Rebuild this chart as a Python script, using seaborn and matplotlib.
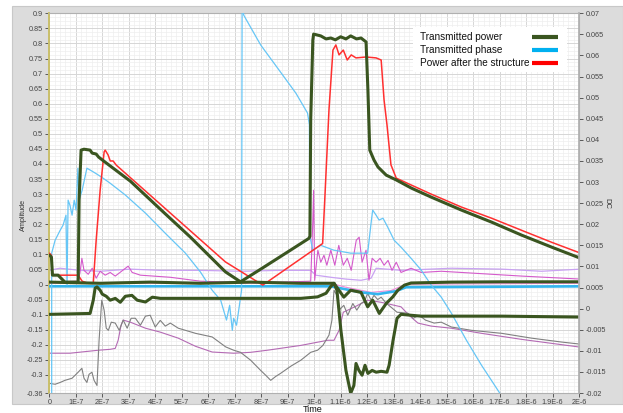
import numpy as np
import pandas as pd
import seaborn as sns
import matplotlib
matplotlib.use("Agg")
import matplotlib.pyplot as plt
from matplotlib.lines import Line2D
from matplotlib.patches import Rectangle
from matplotlib.ticker import MultipleLocator

sns.set_theme(style="white")
plt.rcParams['font.family'] = ['Liberation Sans', 'DejaVu Sans']

# ---------------- data (time in units of 1E-7 s) ----------------
power_t = [0.01, 0.08, 0.12, 0.33, 0.59, 1.09, 1.125, 1.2, 1.31, 1.54, 1.62, 1.77, 1.86, 2.11,
           3.06, 4.19, 5.33, 6.65, 7.22, 8.0, 9.0, 9.80, 9.84, 9.87, 9.95, 9.98, 10.25, 10.45,
           10.63, 10.8, 11.0, 11.2, 11.38, 11.6, 11.77, 11.96, 12.03, 12.1, 12.26, 12.41, 12.72,
           13.1, 13.67, 14.42, 15.56, 16.7, 17.83, 18.97, 20.06]
power_v = [0.097, 0.091, 0.031, 0.031, 0.008, 0.008, 0.28, 0.446, 0.449, 0.446, 0.436, 0.433, 0.423, 0.406,
           0.343, 0.25, 0.157, 0.042, 0.009, 0.052, 0.108, 0.153, 0.16, 0.546, 0.811, 0.831, 0.825, 0.815,
           0.818, 0.812, 0.822, 0.815, 0.825, 0.815, 0.818, 0.805, 0.645, 0.446, 0.413, 0.39, 0.363,
           0.347, 0.32, 0.29, 0.247, 0.207, 0.164, 0.124, 0.087]

after_t = [0.01, 0.08, 0.12, 1.09, 1.24, 1.47, 1.66, 1.77, 1.92, 2.07, 2.11, 2.22, 2.3, 2.41, 2.53,
           6.65, 8.06, 10.32, 10.4, 10.56, 10.71, 10.82, 10.94, 11.1, 11.25, 11.4, 11.58, 11.96,
           12.34, 12.53, 12.64, 12.75, 12.9, 13.1, 13.67, 14.42, 15.56, 16.7, 17.83, 18.97, 20.06]
after_v = [0.104, 0.097, 0.031, 0.031, 0.011, 0.004, 0.004, 0.147, 0.313, 0.44, 0.446, 0.43, 0.41, 0.41, 0.396,
           0.075, -0.002, 0.136, 0.28, 0.58, 0.778, 0.795, 0.762, 0.778, 0.745, 0.762, 0.752, 0.755,
           0.752, 0.745, 0.612, 0.53, 0.397, 0.353, 0.33, 0.30, 0.257, 0.22, 0.18, 0.14, 0.104]

phase_t = [0.09, 0.09, 0.22, 0.41, 0.52, 0.63, 0.67, 0.71, 0.78, 0.86, 0.94, 1.01, 1.08, 1.125, 1.24,
           1.42, 1.54, 1.73, 1.98, 2.3, 2.87, 3.63, 4.38, 5.14, 5.71, 6.15, 6.47, 6.69, 6.81, 6.91,
           6.96, 7.07, 7.26, 7.28, 7.34, 7.98, 8.73, 9.31, 9.75, 9.82, 9.84, 9.95, 10.25, 10.74,
           11.38, 12.02, 12.14, 12.21, 12.34, 12.45, 12.6, 12.78, 13.02, 13.28, 13.66, 14.04,
           14.42, 14.8, 15.18, 15.75, 16.32, 17.08]
phase_v = [-0.40, 0.104, 0.147, 0.18, 0.197, 0.23, -0.002, 0.28, 0.263, 0.23, 0.28, 0.247, 0.386, 0.28, 0.313,
           0.386, 0.38, 0.37, 0.356, 0.336, 0.297, 0.237, 0.17, 0.104, 0.041, -0.019, -0.052, -0.118, -0.069, -0.152,
           -0.112, -0.135, -0.019, 0.95, 0.894, 0.795, 0.705, 0.635, 0.569, 0.53, 0.16, 0.114, 0.13, 0.114,
           0.104, 0.104, 0.197, 0.247, 0.23, 0.214, 0.22, 0.19, 0.147, 0.124, 0.087, 0.048,
           -0.002, -0.042, -0.095, -0.185, -0.268, -0.37]

phase_dc_t = [0.0, 10.63, 11.2, 11.77, 12.4, 13.09, 13.47, 20.06]
phase_dc_v = [-0.006, -0.006, -0.016, -0.026, -0.032, -0.022, -0.009, -0.006]

violet_t = [0.0, 0.4, 1.16, 1.92, 3.06, 4.19, 5.71, 7.22, 8.73, 9.87, 10.06, 10.63, 11.2, 11.77,
            12.15, 12.34, 13.28, 15.18, 17.08, 18.59, 20.06]
violet_v = [0.047, 0.054, 0.047, 0.044, 0.051, 0.047, 0.047, 0.044, 0.047, 0.047, 0.031, 0.024, 0.018, 0.014,
            0.021, 0.054, 0.047, 0.054, 0.051, 0.044, 0.051]

magenta_t = [0.0, 1.09, 1.16, 1.23, 1.31, 1.47, 1.62, 1.77, 1.92, 2.11, 2.3, 2.49, 2.98, 3.13, 3.44,
             4.57, 5.71, 6.84, 8.73, 9.87, 9.95, 9.98, 10.02, 10.14, 10.25, 10.37, 10.48, 10.63, 10.78,
             10.93, 11.1, 11.25, 11.4, 11.59, 11.7, 11.81, 11.96, 12.07, 12.19, 12.34, 12.49, 12.64,
             12.79, 12.94, 13.1, 13.28, 13.66, 14.04, 14.8, 15.94, 17.83, 20.06]
magenta_v = [0.008, 0.011, 0.04, 0.087, 0.047, 0.034, 0.054, 0.021, 0.044, 0.031, 0.04, 0.028, 0.061, 0.04, 0.031,
             0.024, 0.011, 0.008, 0.008, 0.011, 0.213, 0.313, 0.014, 0.114, 0.074, 0.097, 0.064, 0.114, 0.064,
             0.13, 0.064, 0.087, 0.047, 0.147, 0.157, 0.074, 0.114, 0.014, 0.087, 0.074, 0.087, 0.064,
             0.08, 0.047, 0.074, 0.04, 0.054, 0.04, 0.044, 0.038, 0.028, 0.018]

pink_t = [0.0, 10.63, 11.2, 12.15, 12.9, 13.47, 20.06]
pink_v = [0.004, 0.004, -0.009, -0.026, -0.02, 0.001, 0.004]

base_t = [0.0, 1.92, 3.81, 5.71, 7.6, 9.5, 10.75, 11.12, 11.38, 11.77, 12.02, 12.21, 12.46, 12.72,
          12.97, 13.16, 13.41, 13.66, 15.18, 17.07, 20.06]
base_v = [0.008, 0.004, 0.008, 0.004, 0.008, 0.004, 0.004, -0.042, -0.019, -0.026, -0.074, -0.052, -0.096, -0.063,
          -0.041, -0.019, -0.002, 0.005, 0.008, 0.009, 0.009]

low_t = [0.0, 1.54, 1.66, 1.73, 1.8, 1.92, 2.0, 2.15, 2.3, 2.49, 2.68, 2.87, 3.12, 3.32, 3.63, 3.89,
         4.19, 4.87, 5.71, 7.6, 9.5, 10.13, 10.45, 10.63, 10.75, 10.86, 11.01, 11.2, 11.38, 11.5,
         11.58, 11.69, 11.81, 11.92, 12.03, 12.19, 12.34, 12.53, 12.75, 12.83, 12.98, 13.13, 13.28,
         14.04, 15.18, 17.08, 20.06]
low_v = [-0.099, -0.096, -0.052, -0.012, -0.008, -0.019, -0.032, -0.039, -0.052, -0.046, -0.059, -0.039, -0.036,
         -0.052, -0.058, -0.042, -0.046, -0.046, -0.046, -0.046, -0.046, -0.041, -0.029, -0.006, 0.004, -0.019,
         -0.152, -0.285, -0.361, -0.335, -0.262, -0.285, -0.301, -0.268, -0.295, -0.285, -0.291, -0.288, -0.291,
         -0.268, -0.185, -0.112, -0.099, -0.105, -0.105, -0.105, -0.108]

gray_t = [0.0, 0.22, 0.41, 0.59, 0.86, 1.09, 1.23, 1.31, 1.42, 1.5, 1.61, 1.69, 1.8, 1.88, 1.98, 2.07,
          2.15, 2.23, 2.34, 2.49, 2.64, 2.79, 2.94, 3.09, 3.25, 3.44, 3.63, 3.81, 4.0, 4.19, 4.38,
          4.57, 4.87, 5.14, 5.52, 6.15, 6.66, 6.96, 7.22, 7.6, 7.98, 8.17, 8.36, 8.55, 8.73, 9.12,
          9.5, 9.87, 10.13, 10.33, 10.56, 10.67, 10.75, 10.86, 10.94, 11.12, 11.27, 11.46, 11.61,
          11.77, 11.9, 12.02, 12.15, 12.26, 12.4, 12.53, 12.72, 12.9, 13.13, 13.54, 13.74, 13.97,
          14.2, 14.53, 14.8, 15.18, 15.94, 17.08, 18.21, 19.35, 20.06]
gray_v = [-0.328, -0.331, -0.325, -0.318, -0.311, -0.291, -0.278, -0.311, -0.325, -0.298, -0.291, -0.318, -0.335,
          -0.185, -0.052, -0.085, -0.145, -0.152, -0.125, -0.128, -0.152, -0.118, -0.145, -0.112, -0.112, -0.135,
          -0.105, -0.102, -0.141, -0.119, -0.138, -0.128, -0.145, -0.152, -0.162, -0.174, -0.207, -0.218, -0.225,
          -0.251, -0.285, -0.301, -0.318, -0.305, -0.295, -0.271, -0.251, -0.225, -0.218, -0.202, -0.168, -0.119,
          -0.019, -0.036, -0.085, -0.069, -0.102, -0.063, -0.085, -0.063, -0.056, -0.029, -0.052, -0.036, -0.05,
          -0.042, -0.062, -0.075, -0.092, -0.095, -0.112, -0.102, -0.118, -0.128, -0.125, -0.141, -0.152, -0.162,
          -0.178, -0.191, -0.198]

purple_t = [0.0, 0.78, 1.86, 2.3, 2.49, 2.6, 2.71, 2.79, 3.06, 3.63, 4.19, 4.87, 5.52, 6.15, 6.96, 7.6,
            8.24, 9.5, 10.51, 10.75, 10.94, 11.1, 11.27, 11.58, 12.02, 12.53, 13.28, 13.58, 13.92,
            14.42, 15.18, 16.32, 17.83, 20.06]
purple_v = [-0.228, -0.228, -0.218, -0.215, -0.212, -0.185, -0.135, -0.118, -0.125, -0.145, -0.158, -0.178,
            -0.205, -0.224, -0.228, -0.225, -0.218, -0.202, -0.185, -0.185, -0.152, -0.092, -0.085, -0.072,
            -0.052, -0.059, -0.074, -0.102, -0.128, -0.138, -0.145, -0.162, -0.182, -0.208]

x_ticks = list(range(0, 21))
x_labels = ["0", "1E-7", "2E-7", "3E-7", "4E-7", "5E-7", "6E-7", "7E-7", "8E-7", "9E-7", "1E-6",
            "1.1E-6", "1.2E-6", "1.3E-6", "1.4E-6", "1.5E-6", "1.6E-6", "1.7E-6", "1.8E-6", "1.9E-6", "2E-6"]
left_ticks = [0.9, 0.85, 0.8, 0.75, 0.7, 0.65, 0.6, 0.55, 0.5, 0.45, 0.4, 0.35, 0.3, 0.25, 0.2, 0.15,
              0.1, 0.05, 0.0, -0.05, -0.1, -0.15, -0.2, -0.25, -0.3, -0.36]
left_labels = ["0.9", "0.85", "0.8", "0.75", "0.7", "0.65", "0.6", "0.55", "0.5", "0.45", "0.4", "0.35",
               "0.3", "0.25", "0.2", "0.15", "0.1", "0.05", "0", "-0.05", "-0.1", "-0.15", "-0.2",
               "-0.25", "-0.3", "-0.36"]
right_ticks = [0.07, 0.065, 0.06, 0.055, 0.05, 0.045, 0.04, 0.035, 0.03, 0.025, 0.02, 0.015, 0.01,
               0.005, 0.0, -0.005, -0.01, -0.015, -0.02]
right_labels = ["0.07", "0.065", "0.06", "0.055", "0.05", "0.045", "0.04", "0.035", "0.03", "0.025",
                "0.02", "0.015", "0.01", "0.005", "0", "-0.005", "-0.01", "-0.015", "-0.02"]
legend_labels = ["Transmitted power", "Transmitted phase", "Power after the structure"]
legend_colors = ["#3a5520", "#00b0f0", "#ff0000"]

# ---------------- figure ----------------
W, H = 623, 413
fig = plt.figure(figsize=(W / 100, H / 100), dpi=100)
fig.patch.set_facecolor("white")
fig.patches.append(Rectangle((12 / W, 1 - 404 / H), (W - 12) / W, (404 - 6) / H,
                             transform=fig.transFigure, facecolor="#dcdcdc",
                             edgecolor="#c8c8c8", linewidth=0.8, zorder=-10))

ax = fig.add_axes([49.3 / W, 1 - 393 / H, (579 - 49.3) / W, (393 - 13.3) / H])
ax.set_zorder(1)
ax.set_facecolor("white")
ax.set_xlim(0, 20)
ax.set_ylim(-0.36, 0.9)

# grid
ax.xaxis.set_minor_locator(MultipleLocator(0.2))
ax.yaxis.set_minor_locator(MultipleLocator(0.0125))
ax.grid(which="major", color="#d6d6d6", linewidth=0.7)
ax.grid(which="minor", color="#eeeeee", linewidth=0.5)
ax.set_axisbelow(True)


def draw(t, v, color, lw, z):
    df = pd.DataFrame({"t": t, "v": v})
    sns.lineplot(data=df, x="t", y="v", ax=ax, color=color, linewidth=lw, sort=False,
                 estimator=None, legend=False, zorder=z)


draw(purple_t, purple_v, "#b46ab4", 0.8, 2)
draw(gray_t, gray_v, "#808080", 0.8, 2)
draw(violet_t, violet_v, "#c9a2f2", 0.9, 2)
draw(magenta_t, magenta_v, "#d45acb", 0.8, 3)
draw(pink_t, pink_v, "#f08ad8", 0.8, 3)
draw(phase_dc_t, phase_dc_v, "#33b5ee", 1.9, 3)
draw(phase_t, phase_v, "#66c6f6", 0.9, 4)
draw(after_t, after_v, "#ff3030", 1.1, 5)
draw(low_t, low_v, "#3a5520", 2.2, 6)
draw(base_t, base_v, "#3a5520", 2.2, 6)
draw(power_t, power_v, "#3a5520", 2.2, 7)

ax.set_xticks(x_ticks)
ax.set_xticklabels(x_labels)
ax.set_yticks(left_ticks)
ax.set_yticklabels(left_labels)
ax.tick_params(axis="both", which="major", labelsize=5.2, colors="#444444", length=3, width=0.6,
               pad=1.5, direction="out", left=True, bottom=True)
ax.tick_params(axis="both", which="minor", length=0)
ax.set_xlabel("")
ax.set_ylabel("")
for s in ["top", "right", "bottom"]:
    ax.spines[s].set_color("#b0b0b0")
    ax.spines[s].set_linewidth(0.8)
ax.spines["left"].set_color("#c9bf6a")
ax.spines["left"].set_linewidth(1.4)

ax2 = ax.twinx()
ax2.set_zorder(2)
ax2.set_ylim(-0.02, 0.07)
ax2.set_yticks(right_ticks)
ax2.set_yticklabels(right_labels)
ax2.tick_params(axis="y", labelsize=5.2, colors="#444444", length=3, width=0.6, pad=1.5,
                direction="out", right=True)
ax2.grid(False)
ax2.spines["right"].set_color("#b0b0b0")
for s in ["top", "left", "bottom"]:
    ax2.spines[s].set_visible(False)

# legend: text left-aligned, colour swatch on the right
fig.add_artist(Rectangle((413 / W, 1 - 72 / H), (567 - 413) / W, (72 - 27) / H,
                         transform=fig.transFigure, facecolor="white", edgecolor="none",
                         zorder=10))
for i, (lab, col) in enumerate(zip(legend_labels, legend_colors)):
    yy = 1 - (36.5 + 13.3 * i) / H
    fig.text(420 / W, yy, lab, fontsize=7.2, color="#111111", ha="left", va="center", zorder=11)
    fig.add_artist(Line2D([532 / W, 558 / W], [yy, yy], transform=fig.transFigure,
                          color=col, lw=3.0, solid_capstyle="butt", zorder=11))

fig.text(23 / W, 1 - 215 / H, "Amplitude", rotation=90, fontsize=5.2, color="#333333",
         ha="center", va="center")
fig.text(607 / W, 1 - 203 / H, "DC", rotation=270, fontsize=5.5, color="#333333",
         ha="center", va="center")
fig.text(313 / W, 1 - 410 / H, "Time", fontsize=6.5, color="#111111", ha="center", va="center")

fig.savefig("out.png", dpi=100, facecolor=fig.get_facecolor())
